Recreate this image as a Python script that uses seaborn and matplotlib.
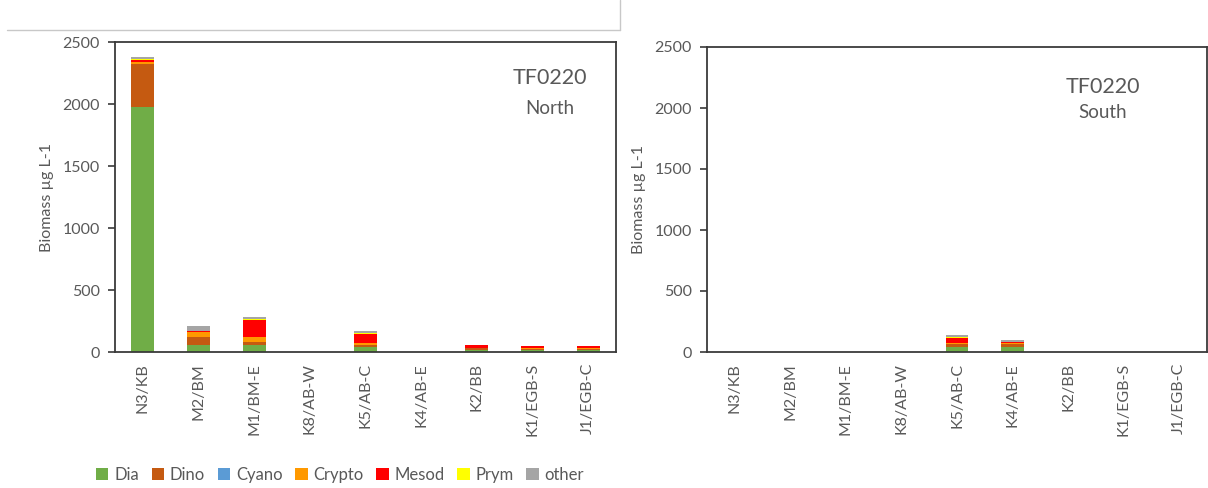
import matplotlib
matplotlib.use("Agg")
import matplotlib.pyplot as plt
from matplotlib.patches import Patch
from matplotlib.lines import Line2D
import numpy as np
import pandas as pd
import seaborn as sns

sites = ["N3/KB", "M2/BM", "M1/BM-E", "K8/AB-W", "K5/AB-C", "K4/AB-E", "K2/BB", "K1/EGB-S", "J1/EGB-C"]
groups = ["Dia", "Dino", "Cyano", "Crypto", "Mesod", "Prym", "other"]
colors = ["#70AD47", "#C55A11", "#5B9BD5", "#FF9900", "#FF0000", "#FFFF00", "#A5A5A5"]

north_dia = [1975, 53, 58, 0, 40, 0, 20, 15, 18]
north_dino = [350, 65, 22, 0, 13, 0, 10, 12, 10]
north_cyano = [0, 0, 0, 0, 0, 0, 0, 0, 0]
north_crypto = [15, 45, 40, 0, 20, 0, 5, 3, 3]
north_mesod = [15, 5, 140, 0, 75, 0, 20, 15, 14]
north_prym = [5, 2, 5, 0, 3, 0, 0, 0, 0]
north_other = [20, 40, 17, 0, 18, 0, 3, 3, 3]

south_dia = [0, 0, 0, 0, 40, 42, 0, 0, 0]
south_dino = [0, 0, 0, 0, 25, 22, 0, 0, 0]
south_cyano = [0, 0, 0, 0, 0, 0, 0, 0, 0]
south_crypto = [0, 0, 0, 0, 8, 12, 0, 0, 0]
south_mesod = [0, 0, 0, 0, 45, 6, 0, 0, 0]
south_prym = [0, 0, 0, 0, 2, 3, 0, 0, 0]
south_other = [0, 0, 0, 0, 22, 13, 0, 0, 0]

y_ticks = [0, 500, 1000, 1500, 2000, 2500]
y_label = "Biomass µg L-1"
title_main = "TF0220"
panel_names = ["North", "South"]

north = [north_dia, north_dino, north_cyano, north_crypto, north_mesod, north_prym, north_other]
south = [south_dia, south_dino, south_cyano, south_crypto, south_mesod, south_prym, south_other]

sns.set_theme(style="white")
plt.rcParams["font.family"] = ["Lato", "DejaVu Sans"]
text_c = "#595959"
spine_c = "#3a3a3a"

fig = plt.figure(figsize=(12.08, 4.88), dpi=100)
fig.patch.set_facecolor("white")
ax1 = fig.add_axes([115 / 1208, 1 - 352 / 488, 501 / 1208, 310 / 488])
ax2 = fig.add_axes([707 / 1208, 1 - 352 / 488, 500 / 1208, 305 / 488])


def draw(ax, series, name, tx, ty1, ty2):
    df = pd.DataFrame({g: v for g, v in zip(groups, series)}, index=sites)
    cum = df.cumsum(axis=1)
    for g, c in reversed(list(zip(groups, colors))):
        sns.barplot(x=sites, y=cum[g].values, order=sites, color=c, saturation=1,
                    width=0.41, ax=ax, linewidth=0)
    ax.set_ylim(0, 2500)
    ax.set_xlim(-0.5, len(sites) - 0.5)
    ax.set_yticks(y_ticks)
    ax.set_yticklabels([str(t) for t in y_ticks], color=text_c, fontsize=11.5)
    ax.set_xticks(range(len(sites)))
    ax.set_xticklabels(sites, rotation=90, color=text_c, fontsize=11.5)
    ax.tick_params(axis="y", direction="out", length=5, width=1.2, color=spine_c, left=True, pad=6)
    ax.tick_params(axis="x", length=0, pad=8)
    ax.set_ylabel(y_label, color=text_c, fontsize=11.5, labelpad=6)
    ax.set_xlabel("")
    for s in ax.spines.values():
        s.set_visible(True)
        s.set_color(spine_c)
        s.set_linewidth(1.3)
    ax.text(tx, ty1, title_main, transform=ax.transAxes, ha="center", va="center",
            fontsize=15.5, color=text_c)
    ax.text(tx, ty2, name, transform=ax.transAxes, ha="center", va="center",
            fontsize=13.5, color=text_c)


draw(ax1, north, panel_names[0], 0.868, 0.884, 0.784)
draw(ax2, south, panel_names[1], 0.792, 0.869, 0.784)

# remnant frame lines of neighbouring chart
fig.add_artist(Line2D([7 / 1208, 620 / 1208], [1 - 30 / 488, 1 - 30 / 488], color="#c8c8c8", lw=1))
fig.add_artist(Line2D([620 / 1208, 620 / 1208], [1 - 30 / 488, 1.0], color="#c8c8c8", lw=1))

handles = [Patch(facecolor=c, edgecolor="none", label=g) for g, c in zip(groups, colors)]
leg = fig.legend(handles=handles, loc="center", bbox_to_anchor=(340 / 1208, 1 - 475 / 488),
                 ncol=7, frameon=False, fontsize=12, handlelength=0.75, handleheight=0.75,
                 handletextpad=0.35, columnspacing=0.75)
for t in leg.get_texts():
    t.set_color(text_c)

fig.savefig("out.png", dpi=100, facecolor="white")
